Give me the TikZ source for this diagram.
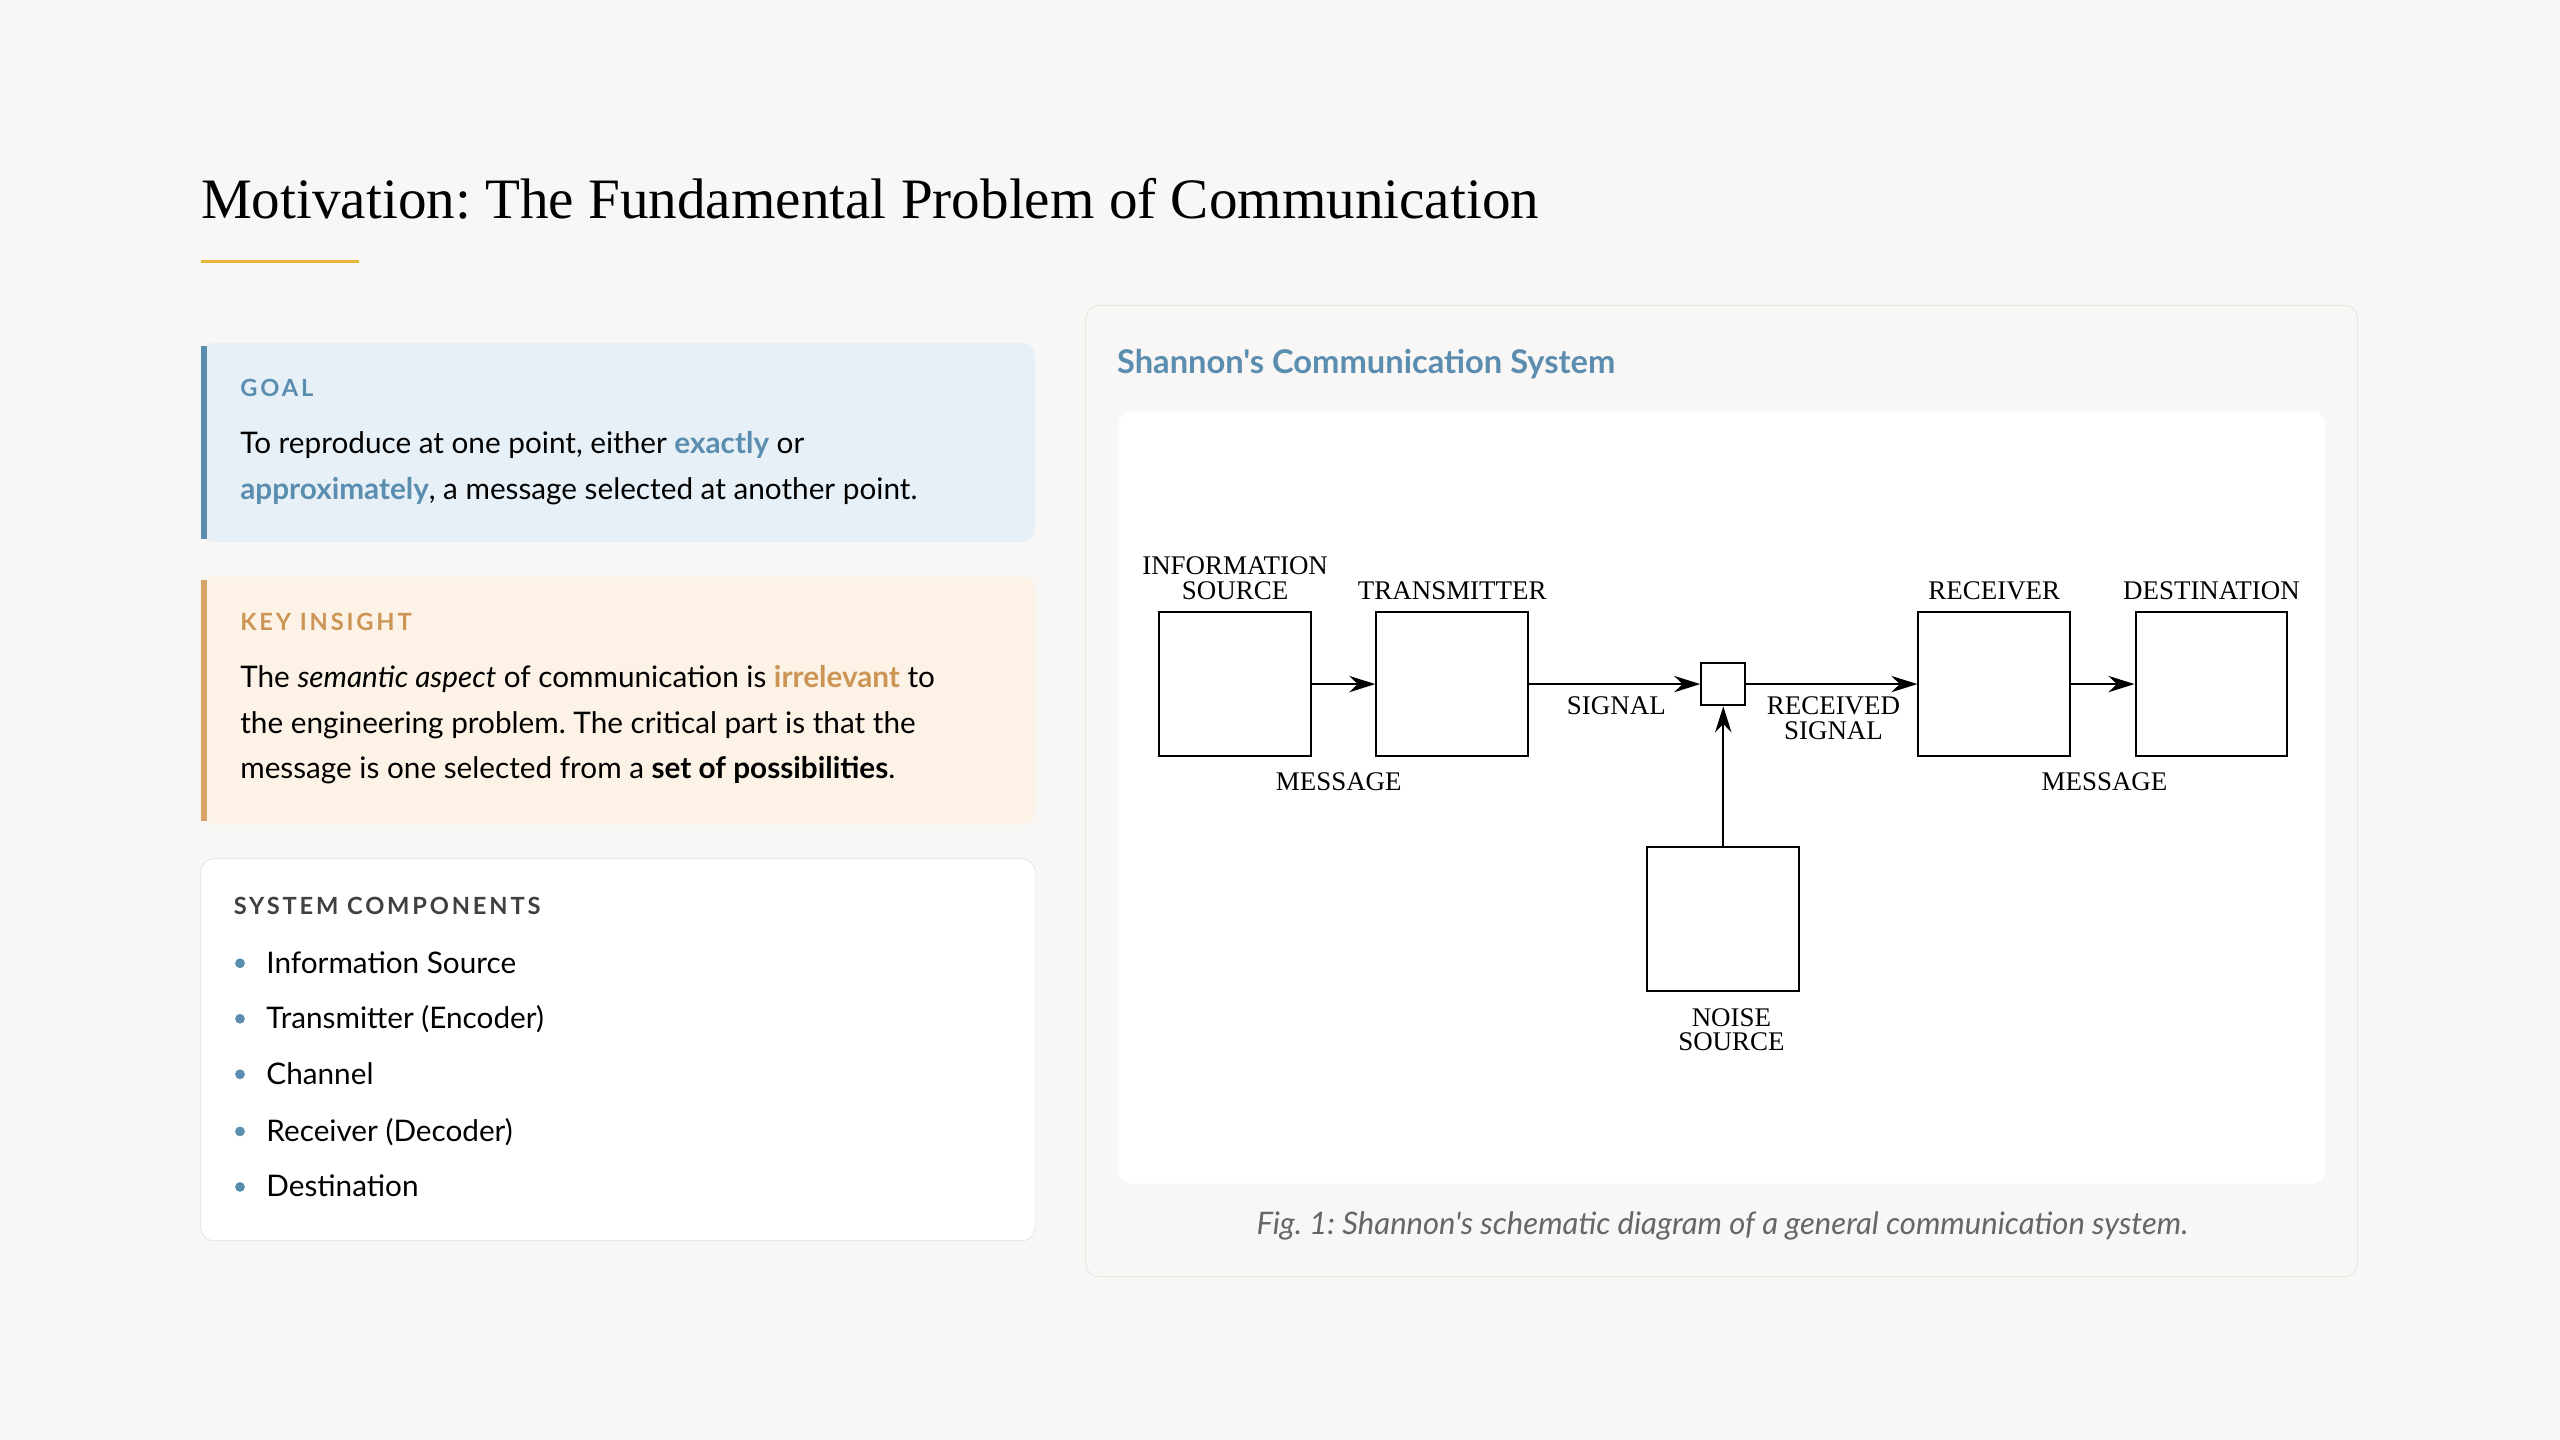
\documentclass[tikz,border=0pt]{standalone}
\usepackage{fontspec}
\setmainfont{Liberation Serif}
\newfontfamily\uisans{Lato}
\newfontfamily\uispaced[LetterSpace=12]{Lato}
\usetikzlibrary{arrows.meta, positioning}
\definecolor{pagebg}{HTML}{F8F7F5}
\definecolor{goalbg}{HTML}{E7F0F7}
\definecolor{goalbar}{HTML}{5B8DB0}
\definecolor{keybg}{HTML}{FCF2E5}
\definecolor{keybar}{HTML}{D9A46A}
\definecolor{keytxt}{HTML}{CC9455}
\definecolor{frameline}{HTML}{E2E0DC}
\definecolor{gold}{HTML}{E8B739}
\frenchspacing
\begin{document}
\begin{tikzpicture}[x=1pt,y=-1pt,
  body/.style={anchor=base west,inner sep=0pt,font=\uisans\fontsize{18.2}{28}\selectfont},
  tag/.style={anchor=base west,inner sep=0pt,font=\uispaced\bfseries\fontsize{14.5}{16}\selectfont},
  blk/.style={draw,line width=1.2pt,minimum width=93pt,minimum height=88pt,inner sep=0pt},
  lbl/.style={inner sep=0pt,align=center,font=\fontsize{16.5}{16}\selectfont},
  flow/.style={line width=1.1pt,-{Stealth[length=16pt,width=10pt]}}]
\fill[pagebg] (0,0) rectangle (1568,882);
\useasboundingbox (0,0) rectangle (1568,882);
% title
\node[anchor=base west,inner sep=0pt,font=\fontsize{35}{40}\selectfont] (title) at (123,134) {Motivation: The Fundamental Problem of Communication};
\draw[gold,line width=2pt] (123,160) -- (220,160);
% goal box
\fill[goalbg,rounded corners=8pt] (123,210) rectangle (634,332);
\fill[goalbar] (123,212) rectangle (127,330);
\node[tag,text=goalbar] (goaltag) at (147,243) {GOAL};
\node[body] (goal1) at (147,278) {To reproduce at one point, either \textcolor{goalbar}{\bfseries exactly} or};
\node[body] (goal2) at (147,306) {\textcolor{goalbar}{\bfseries approximately}, a message selected at another point.};
% key insight box
\fill[keybg,rounded corners=8pt] (123,353) rectangle (634,505);
\fill[keybar] (123,355) rectangle (127,503);
\node[tag,text=keytxt] (keytag) at (147,386) {KEY INSIGHT};
\node[body] (key1) at (147,421) {The \textit{semantic aspect} of communication is \textcolor{keytxt}{\bfseries irrelevant} to};
\node[body] (key2) at (147,449) {the engineering problem. The critical part is that the};
\node[body] (key3) at (147,477) {message is one selected from a \textbf{set of possibilities}.};
% components box
\draw[frameline,fill=white,rounded corners=8pt] (123,526) rectangle (634,760);
\node[tag,text=black!75] (comptag) at (143,560) {SYSTEM COMPONENTS};
\foreach \y/\t in {596/Information Source,630/Transmitter (Encoder),664/Channel,699/Receiver (Decoder),733/Destination}{
  \fill[goalbar] (147,\y-6) circle (3pt);
  \node[body] at (163,\y) {\t};
}
% right panel
\draw[frameline,fill=pagebg,rounded corners=8pt] (665,187) rectangle (1444,782);
\node[anchor=base west,inner sep=0pt,text=goalbar,font=\uisans\bfseries\fontsize{20}{22}\selectfont] (paneltitle) at (684,229) {Shannon's Communication System};
\fill[white,rounded corners=8pt] (685,252) rectangle (1424,725);
\node[anchor=base,inner sep=0pt,text=black!60,font=\uisans\itshape\fontsize{19}{20}\selectfont] (caption) at (1055,756) {Fig. 1: Shannon's schematic diagram of a general communication system.};
% diagram
\begin{scope}
\clip (685,252) rectangle (1410,725);
\node[blk] (src) at (756.5,419) {};
\node[blk] (tx) at (889.5,419) {};
\node[draw,line width=1.2pt,minimum width=27pt,minimum height=26pt,inner sep=0pt] (chan) at (1055.5,419) {};
\node[blk] (rx) at (1221.5,419) {};
\node[blk] (dst) at (1354.5,419) {};
\node[blk] (noise) at (1055.5,563) {};
\draw[flow] (src) -- (tx);
\draw[flow] (tx) -- (chan);
\draw[flow] (chan) -- (rx);
\draw[flow] (rx) -- (dst);
\draw[flow] (noise) -- (chan);
\node[lbl,above=7pt of src] {INFORMATION\\[-1pt]SOURCE};
\node[lbl,above=7pt of tx] {TRANSMITTER};
\node[lbl,above=7pt of rx] {RECEIVER};
\node[lbl,above=7pt of dst] {DESTINATION};
\node[lbl] at (990,432) {SIGNAL};
\node[lbl] at (1123,440) {RECEIVED\\[-1pt]SIGNAL};
\node[lbl] at (820,479) {MESSAGE};
\node[lbl] at (1289,479) {MESSAGE};
\node[lbl,below=10pt of noise,xshift=5pt] {NOISE\\[-1pt]SOURCE};
\end{scope}
\end{tikzpicture}
\end{document}
